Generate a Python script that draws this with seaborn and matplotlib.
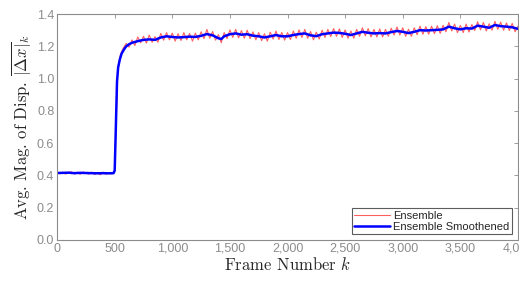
import numpy as np
import pandas as pd
import matplotlib
matplotlib.use('Agg')
import matplotlib.pyplot as plt
import matplotlib.ticker as mticker
import seaborn as sns

# raw ensemble, one value every 25 frames
ens_frames = np.arange(0, 4001, 25)
ens_values = [
    0.421, 0.410, 0.420, 0.408, 0.419, 0.422, 0.409, 0.420, 0.407, 0.421,
    0.416, 0.408, 0.420, 0.406, 0.419, 0.404, 0.420, 0.407, 0.418, 0.409,
    0.43, 1.04, 1.15, 1.19,
    1.218, 1.195, 1.24, 1.205, 1.258, 1.222, 1.262, 1.22, 1.27, 1.225, 1.26, 1.225,
    1.28, 1.238, 1.285, 1.24,
    1.282, 1.232, 1.278, 1.236, 1.285, 1.24, 1.28, 1.232, 1.282, 1.24,
    1.29, 1.248, 1.305, 1.25, 1.292, 1.238, 1.272, 1.222, 1.285, 1.248,
    1.302, 1.255, 1.305, 1.252, 1.298, 1.25, 1.30, 1.248, 1.29, 1.24,
    1.285, 1.235, 1.278, 1.232, 1.288, 1.245, 1.295, 1.242, 1.286, 1.238,
    1.285, 1.242, 1.295, 1.25, 1.302, 1.255, 1.305, 1.25, 1.292, 1.24,
    1.288, 1.245, 1.30, 1.255, 1.305, 1.26, 1.31, 1.262, 1.308, 1.255,
    1.302, 1.25, 1.295, 1.25, 1.305, 1.262, 1.315, 1.265, 1.31, 1.258,
    1.305, 1.258, 1.308, 1.258, 1.305, 1.262, 1.312, 1.27, 1.32, 1.27,
    1.315, 1.262, 1.306, 1.262, 1.315, 1.272, 1.325, 1.275, 1.322, 1.275,
    1.325, 1.278, 1.328, 1.28, 1.33, 1.29, 1.348, 1.295, 1.338, 1.285,
    1.33, 1.285, 1.338, 1.288, 1.335, 1.298, 1.352, 1.302, 1.348, 1.295,
    1.34, 1.30, 1.355, 1.305, 1.35, 1.30, 1.345, 1.298, 1.342, 1.29,
    1.325,
]

# smoothed ensemble
smooth_frames = [0, 50, 100, 150, 200, 250, 300, 350, 400, 450, 490, 500, 510, 520,
                 530, 545, 560, 580, 600, 625, 650, 700, 750, 800, 850, 900, 950,
                 1000, 1050, 1100, 1150, 1200, 1250, 1300, 1350, 1400, 1425, 1450,
                 1500, 1550, 1600, 1650, 1700, 1750, 1800, 1850, 1900, 1950, 2000,
                 2050, 2100, 2150, 2200, 2250, 2300, 2350, 2400, 2450, 2500, 2550,
                 2600, 2650, 2700, 2750, 2800, 2850, 2900, 2950, 3000, 3050, 3100,
                 3150, 3200, 3250, 3300, 3350, 3400, 3450, 3500, 3550, 3600, 3650,
                 3700, 3750, 3800, 3850, 3900, 3950, 4000]
smooth_values = [0.415, 0.416, 0.417, 0.414, 0.416, 0.415, 0.414, 0.413, 0.414, 0.413,
                 0.414, 0.43, 0.70, 0.98, 1.07, 1.12, 1.155, 1.18, 1.20, 1.213, 1.222,
                 1.232, 1.240, 1.243, 1.240, 1.255, 1.262, 1.258, 1.255, 1.257, 1.260,
                 1.258, 1.265, 1.276, 1.268, 1.250, 1.245, 1.262, 1.275, 1.280, 1.272,
                 1.275, 1.266, 1.262, 1.255, 1.262, 1.270, 1.262, 1.262, 1.270, 1.276,
                 1.280, 1.268, 1.263, 1.275, 1.280, 1.285, 1.283, 1.278, 1.270, 1.280,
                 1.290, 1.284, 1.280, 1.282, 1.280, 1.288, 1.295, 1.290, 1.282, 1.290,
                 1.300, 1.298, 1.300, 1.302, 1.305, 1.322, 1.312, 1.305, 1.312, 1.310,
                 1.328, 1.322, 1.315, 1.332, 1.325, 1.322, 1.318, 1.308]

df_ens = pd.DataFrame({'frame': ens_frames, 'value': ens_values})
df_smooth = pd.DataFrame({'frame': smooth_frames, 'value': smooth_values})

sns.set_style('white')
plt.rcParams['font.family'] = ['Liberation Sans', 'DejaVu Sans']
plt.rcParams['mathtext.fontset'] = 'cm'

fig = plt.figure(figsize=(5.19, 2.81), dpi=100)
ax = fig.add_axes([0.110, 0.146, 0.888, 0.804])

sns.lineplot(data=df_ens, x='frame', y='value', ax=ax, color='#ff1a1a', alpha=0.7,
             linewidth=0.8, label='Ensemble')
sns.lineplot(data=df_smooth, x='frame', y='value', ax=ax, color='#0000ff',
             linewidth=1.8, label='Ensemble Smoothened')

ax.set_xlim(0, 4000)
ax.set_ylim(0, 1.4)
ax.set_xticks(np.arange(0, 4001, 500))
ax.set_yticks(np.arange(0, 1.41, 0.2))
ax.xaxis.set_major_formatter(mticker.StrMethodFormatter('{x:,.0f}'))
ax.yaxis.set_major_formatter(mticker.StrMethodFormatter('{x:.1f}'))

gray = '#8c8c8c'
ax.tick_params(direction='in', length=3, width=0.6, colors=gray, labelsize=9,
               top=True, right=True, pad=2)
for s in ax.spines.values():
    s.set_color(gray)
    s.set_linewidth(0.8)

ax.set_xlabel('Frame Number $k$', fontsize=12, family='cmr10', labelpad=1)
ax.set_ylabel(r'Avg. Mag. of Disp. $\overline{|\Delta x|}_k$', fontsize=12,
              family='cmr10', labelpad=3)

leg = ax.legend(loc='lower right', fontsize=8, frameon=True, fancybox=False,
                edgecolor='#333333', handlelength=3.2, borderpad=0.25,
                labelspacing=0.1, handletextpad=0.3, borderaxespad=0.5)
leg.get_frame().set_linewidth(0.8)

fig.savefig('out.png', dpi=100)
